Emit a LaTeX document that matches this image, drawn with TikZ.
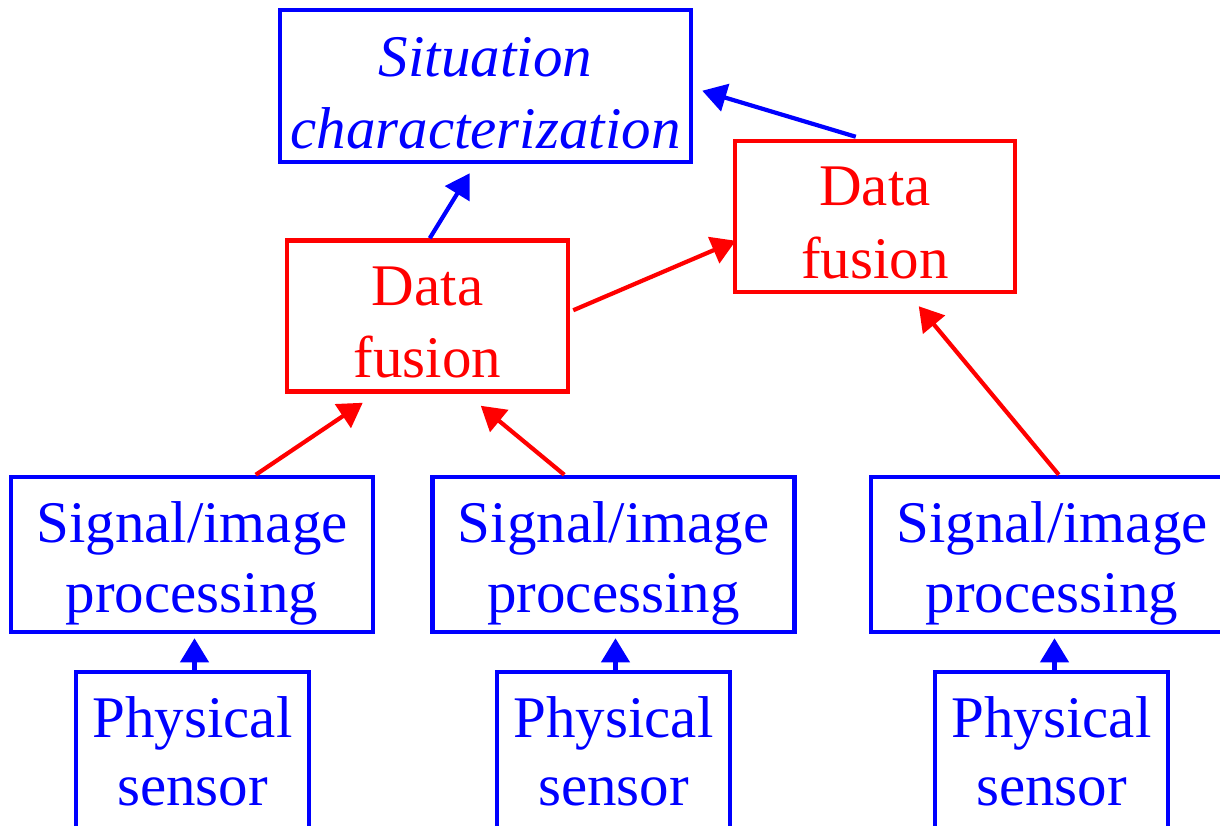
\documentclass[tikz,border=0pt]{standalone}
\usepackage{fontspec}
\setmainfont{Liberation Serif}
\usetikzlibrary{arrows.meta,calc}
\definecolor{pblue}{RGB}{0,0,255}
\definecolor{pred}{RGB}{255,0,0}
\newcommand\tstr[1]{\rule{0pt}{#1pt}}
\newcommand\bstr{\rule[-13pt]{0pt}{13pt}}
\begin{document}
\begin{tikzpicture}[x=1pt,y=-1pt,
  bx/.style={draw, line width=4.5pt, inner sep=0pt, align=center},
  bluebx/.style={bx, draw=pblue, text=pblue},
  redbx/.style={bx, draw=pred, text=pred},
  arr/.style={line width=4.2pt, -{Triangle[length=24pt,width=28pt]}},
  sigbox/.style={bluebx, minimum width=362pt, minimum height=155pt, font=\fontsize{59}{70}\selectfont},
  phybox/.style={bluebx, minimum width=233pt, minimum height=160pt, font=\fontsize{59}{68}\selectfont},
  fusbox/.style={redbx, minimum width=281pt, minimum height=151pt, font=\fontsize{59}{72}\selectfont},
]
\useasboundingbox (0,0) rectangle (1220,826);
\clip (0,0) rectangle (1220,826);

\node[bluebx, minimum width=411pt, minimum height=152pt, font=\fontsize{59}{72}\selectfont\itshape] (sit) at (485.5,86) {\tstr{66}Situation\\characterization\bstr};
\node[fusbox] (df1) at (427.5,316) {\tstr{64}Data\\fusion\bstr};
\node[fusbox, minimum width=280pt] (df2) at (875,216.5) {\tstr{64}Data\\fusion\bstr};

\node[sigbox] (s1) at (192,554.5) {\tstr{59}Signal/image\\processing\bstr};
\node[sigbox] (s2) at (613.5,554.5) {\tstr{59}Signal/image\\processing\bstr};
\node[sigbox] (s3) at (1052,554.5) {\tstr{59}Signal/image\\processing\bstr};

\node[phybox] (p1) at (192.5,752) {\tstr{52}Physical\\sensor\bstr};
\node[phybox] (p2) at (613.5,752) {\tstr{52}Physical\\sensor\bstr};
\node[phybox] (p3) at (1051.5,752) {\tstr{52}Physical\\sensor\bstr};

\draw[arr, pblue] ($(df1.north west)+(145,0)$) -- ($(sit.south west)+(192,9)$);
\draw[arr, pblue] ($(df2.north west)+(123,-2)$) -- ($(sit.north east)+(9,83)$);
\draw[arr, pred] ($(df1.north east)+(3,72)$) -- ($(df2.north west)+(3,102)$);
\draw[arr, pred] ($(s1.north west)+(247,0)$) -- ($(df1.south west)+(78,9)$);
\draw[arr, pred] ($(s2.north west)+(134,0)$) -- ($(df1.south west)+(196,12)$);
\draw[arr, pred] ($(s3.north west)+(190,0)$) -- ($(df2.south west)+(186,12)$);
\draw[arr, pblue] ($(p1.north)+(2,0)$) -- ($(p1.north |- s1.south)+(2,4)$);
\draw[arr, pblue] ($(p2.north)+(2,0)$) -- ($(p2.north |- s2.south)+(2,4)$);
\draw[arr, pblue] ($(p3.north)+(3,0)$) -- ($(p3.north |- s3.south)+(3,4)$);
\end{tikzpicture}
\end{document}
